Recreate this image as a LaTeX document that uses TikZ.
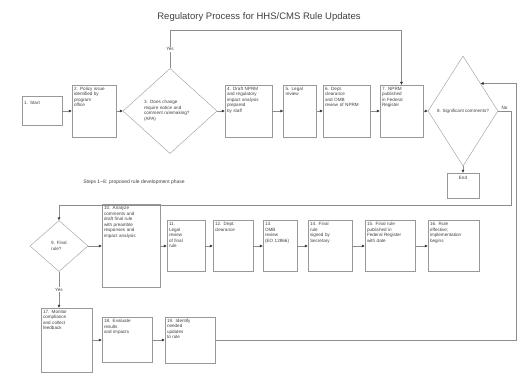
\documentclass[tikz,border=0pt]{standalone}
\usepackage{fontspec}
\setmainfont{Liberation Sans}
\usepackage{tikz}
\usetikzlibrary{arrows.meta,shapes.geometric}

\begin{document}
\begin{tikzpicture}[x=1pt, y=-1pt,
	every node/.style={font=\fontsize{4.6}{5.6}\selectfont, text=black!75},
	stepbox/.style={draw=black!40, align=left, inner sep=2pt, text height=3pt},
	ask/.style={draw=black!40, diamond, align=left, inner sep=0pt},
	lbl/.style={fill=white, inner sep=1pt},
	link/.style={draw=black!45, -{Latex[length=3pt,width=3pt,black!80]}}]
	\useasboundingbox (0,0) rectangle (522,373);

	\node(T) at (259,17){\fontsize{9.5}{11}\selectfont Regulatory Process for HHS/CMS Rule Updates};

	% proposed rule phase
	\node[stepbox, text width=36pt, text height=6pt, text depth=19pt](S1) at (42,111){1. Start};
	\node[stepbox, right of=S1, node distance=52pt, text width=40pt, text depth=45pt](S2){2. Policy issue\\identified by\\program\\office};
	\node[ask, right of=S2, node distance=76pt, text width=52pt, minimum width=94pt, minimum height=85pt](Q1){3. Does change\\require notice and\\comment rulemaking?\\\centering (APA)};
	\node[stepbox, right of=Q1, node distance=78.5pt, text width=43pt, text depth=45pt](S3){4. Draft NPRM\\and regulatory\\impact analysis\\prepared\\by staff};
	\node[stepbox, right of=S3, node distance=51.5pt, text width=29pt, text depth=45pt](S4){5. Legal\\review};
	\node[stepbox, right of=S4, node distance=46.5pt, text width=43pt, text depth=45pt](S5){6. Dept.\\clearance\\and OMB\\review of NPRM};
	\node[stepbox, right of=S5, node distance=55pt, text width=39pt, text depth=45pt](S6){7. NPRM\\published\\in Federal\\Register};
	\node[ask, right of=S6, node distance=61.5pt, minimum width=70pt, minimum height=110pt](Q2){8. Significant comments?};
	\node[stepbox, below of=Q2, node distance=74.5pt, text width=28pt, text height=4pt, text depth=17pt, align=center](S7){End};

	\node(NOTE) at (134,182){\fontsize{5}{6}\selectfont Steps 1--8: proposed rule development phase};

	% final rule phase
	\node[ask, minimum width=58pt, minimum height=51pt](Q3) at (59,246){9. Final\\rule?};
	\node[stepbox, right of=Q3, node distance=72pt, text width=54pt, text depth=76pt](S8){10. Analyze\\comments and\\draft final rule\\with preamble\\responses and\\impact analysis};
	\node[stepbox, right of=S8, node distance=55pt, text width=34pt, text depth=44pt](S9){11.\\Legal\\review\\of final\\rule};
	\node[stepbox, right of=S9, node distance=47pt, text width=36pt, text depth=44pt](S10){12. Dept.\\clearance};
	\node[stepbox, right of=S10, node distance=47pt, text width=30pt, text depth=44pt](S11){13.\\OMB\\review\\(EO 12866)};
	\node[stepbox, right of=S11, node distance=50pt, text width=40pt, text depth=44pt](S12){14. Final\\rule\\signed by\\Secretary};
	\node[stepbox, right of=S12, node distance=60pt, text width=46pt, text depth=44pt](S13){15. Final rule\\published in\\Federal Register\\with date};
	\node[stepbox, right of=S13, node distance=63.5pt, text width=47pt, text depth=44pt](S14){16. Rule\\effective;\\implementation\\begins};

	\node[stepbox, text width=47pt, text depth=57pt](S15) at (66.5,340){17. Monitor\\compliance\\and collect\\feedback};
	\node[stepbox, right of=S15, node distance=60.5pt, text width=46pt, text depth=38pt](S16){18. Evaluate\\results\\and impacts};
	\node[stepbox, right of=S16, node distance=63pt, text width=46pt, text depth=39pt](S17){19. Identify\\needed\\updates\\to rule};

	\coordinate[above of=Q1, node distance=81pt](TOP);
	\coordinate(RX) at (516,340);
	\coordinate(MX) at (511,205);

	\draw[link] (S1) -- (S2);
	\draw[link] (S2) -- (Q1);
	\draw[link] (Q1) -- (S3);
	\draw[link] (S3) -- (S4);
	\draw[link] (S4) -- (S5);
	\draw[link] (S5) -- (S6);
	\draw[link] (S6) -- (Q2);
	\draw[link] (Q2) -- (S7);
	\draw[link] (Q1.north) -- node[lbl]{Yes} (TOP) -| (S6.north);

	\draw[draw=black!45] (Q2.east) -- node[above=1pt, inner sep=0pt]{No} (Q2.east -| MX);
	\draw[link] (Q2.east -| MX) -- (MX) -| (Q3.north);
	\draw[link] (S17.east) -| (Q2.north east -| RX) -- (Q2.north east);

	\draw[link] (Q3) -- (S8);
	\draw[link] (S8) -- (S9);
	\draw[link] (S9) -- (S10);
	\draw[link] (S10) -- (S11);
	\draw[link] (S11) -- (S12);
	\draw[link] (S12) -- (S13);
	\draw[link] (S13) -- (S14);
	\draw[link] (Q3.south) -- node[lbl]{Yes} (Q3.south |- S15.north);
	\draw[link] (S15) -- (S16);
	\draw[link] (S16) -- (S17);

\end{tikzpicture}
\end{document}
